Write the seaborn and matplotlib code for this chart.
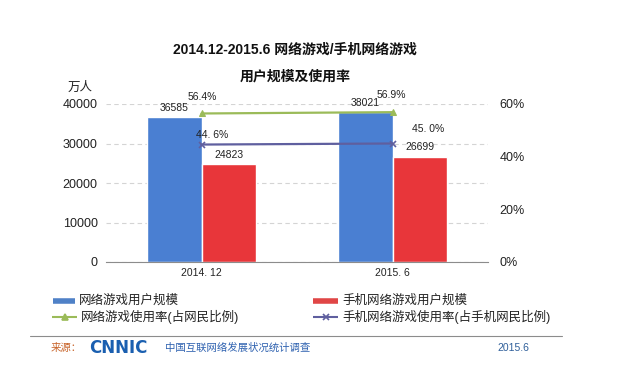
import numpy as np
import pandas as pd
import matplotlib.pyplot as plt
from matplotlib.lines import Line2D
import seaborn as sns

# data
periods = ["2014. 12", "2015. 6"]
pc_users = [36585, 38021]        # 网络游戏用户规模 (万人)
mobile_users = [24823, 26699]    # 手机网络游戏用户规模 (万人)
pc_rate = [56.4, 56.9]           # 网络游戏使用率 (%)
mobile_rate = [44.6, 45.0]       # 手机网络游戏使用率 (%)

series_names = ["网络游戏用户规模", "手机网络游戏用户规模",
                "网络游戏使用率(占网民比例)", "手机网络游戏使用率(占手机网民比例)"]
title1 = "2014.12-2015.6 网络游戏/手机网络游戏"
title2 = "用户规模及使用率"

BLUE = "#4a7fd2"
RED = "#e8363a"
GREEN = "#9bbb59"
PURPLE = "#5f5f9f"

sns.set_style("white")
plt.rcParams["font.family"] = ["Liberation Sans", "Noto Sans CJK SC", "DejaVu Sans"]

df = pd.DataFrame({
    "period": periods * 2,
    "series": [series_names[0]] * 2 + [series_names[1]] * 2,
    "value": pc_users + mobile_users,
})

fig = plt.figure(figsize=(6.2, 3.71), dpi=100)
ax = fig.add_axes([106 / 620, 1 - 262 / 371, 382 / 620, 158 / 371])

sns.barplot(data=df, x="period", y="value", hue="series",
            palette=[BLUE, RED], width=0.57, saturation=1,
            legend=False, ax=ax, zorder=2)

for cont in ax.containers:
    ax.bar_label(cont, fmt="%d", padding=3, fontsize=7.5, color="#222222")

ax.set_ylim(0, 40000)
ax.set_yticks(np.arange(0, 40001, 10000))
ax.set_xlim(-0.5, 1.5)
ax.set_xlabel("")
ax.set_ylabel("")
ax.yaxis.grid(True, linestyle=(0, (4, 3)), color="#d4d4d4", lw=0.8, zorder=0)
ax.set_axisbelow(True)
for s in ["top", "left", "right"]:
    ax.spines[s].set_visible(False)
ax.spines["bottom"].set_color("#8c8c8c")
ax.spines["bottom"].set_linewidth(0.8)
ax.tick_params(axis="y", length=0, pad=6, labelsize=9, labelcolor="#222222")
ax.tick_params(axis="x", which="major", length=0, pad=4, labelsize=7.5,
               labelcolor="#222222")
ax.set_xticks([-0.5, 0.5, 1.5], minor=True)
ax.tick_params(axis="x", which="minor", length=4, color="#8c8c8c", width=0.8)

# rates on the right axis
ax2 = ax.twinx()
xs = np.arange(len(periods))
sns.lineplot(x=xs, y=pc_rate, ax=ax2, color=GREEN, lw=1.6,
             marker="^", markersize=5, markeredgecolor=GREEN)
sns.lineplot(x=xs, y=mobile_rate, ax=ax2, color=PURPLE, lw=1.6,
             marker="x", markersize=5, markeredgecolor=PURPLE, markeredgewidth=1.2)
ax2.set_ylim(0, 60)
ax2.set_yticks([0, 20, 40, 60])
ax2.set_yticklabels([f"{v}%" for v in [0, 20, 40, 60]])
ax2.set_xlim(-0.5, 1.5)
ax2.set_ylabel("")
for s in ["top", "left", "right", "bottom"]:
    ax2.spines[s].set_visible(False)
ax2.tick_params(axis="y", length=0, pad=8.5, labelsize=9, labelcolor="#222222")

pc_off = [(1, 16), (-1, 17)]
mob_off = [(11, 10), (36, 15)]
for i in range(len(periods)):
    ax2.annotate(f"{pc_rate[i]:.1f}%", (xs[i], pc_rate[i]),
                 xytext=(pc_off[i][0] * 0.72, pc_off[i][1] * 0.72),
                 textcoords="offset points", ha="center", va="center",
                 fontsize=7.5, color="#222222")
    ax2.annotate(f"{mobile_rate[i]:.1f}%".replace(".", ". "), (xs[i], mobile_rate[i]),
                 xytext=(mob_off[i][0] * 0.72, mob_off[i][1] * 0.72),
                 textcoords="offset points", ha="center", va="center",
                 fontsize=7.5, color="#222222")

# titles and unit
fig.text(295 / 620, 1 - 50 / 371, title1, ha="center", va="center",
         fontsize=10, fontweight="bold", color="#111111")
fig.text(295 / 620, 1 - 76 / 371, title2, ha="center", va="center",
         fontsize=10, fontweight="bold", color="#111111")
fig.text(80.5 / 620, 1 - 88 / 371, "万人", ha="center", va="center",
         fontsize=9, color="#222222")

# legend, laid out as in the source
def px(x, y):
    return x / 620, 1 - y / 371

legend_items = [
    (53, 75, 301, "#4f81c7", 4, None, series_names[0]),
    (313, 338, 301, "#e04646", 4, None, series_names[1]),
    (52, 77, 317, GREEN, 1.5, "^", series_names[2]),
    (313, 338, 317, PURPLE, 1.5, "x", series_names[3]),
]
for x0, x1, y, c, lw, mk, lab in legend_items:
    (fx0, fy), (fx1, _) = px(x0, y), px(x1, y)
    fig.add_artist(Line2D([fx0, fx1], [fy, fy], color=c, lw=lw,
                          solid_capstyle="butt", transform=fig.transFigure))
    if mk:
        fig.add_artist(Line2D([(fx0 + fx1) / 2], [fy], color=c, marker=mk,
                              markersize=5, markeredgewidth=1.2,
                              transform=fig.transFigure))
    fig.text(fx1 + 4 / 620, fy, lab, ha="left", va="center",
             fontsize=9, color="#222222")

# footer
fig.add_artist(Line2D([30 / 620, 562 / 620], [1 - 336 / 371] * 2,
                      color="#8c8c8c", lw=0.8, transform=fig.transFigure))
fy = 1 - 348 / 371
fig.text(51 / 620, fy, "来源：", ha="left", va="center", fontsize=7.5, color="#c8642a")
fig.text(89 / 620, fy, "CNNIC", ha="left", va="center", fontsize=12,
         fontweight="heavy", color="#1a5fb0", family="DejaVu Sans")
fig.text(165 / 620, fy, "中国互联网络发展状况统计调查", ha="left", va="center",
         fontsize=7.5, color="#2f62b0")
fig.text(497 / 620, fy, "2015.6", ha="left", va="center", fontsize=7.5,
         color="#2f5f9a")

fig.savefig("out.png", dpi=100)
